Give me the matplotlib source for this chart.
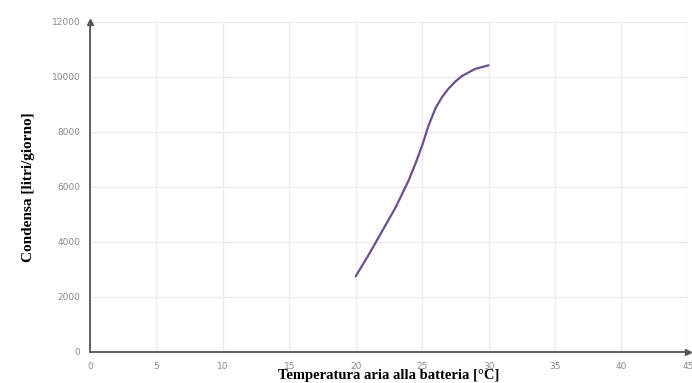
"""Condensa vs temperatura aria alla batteria."""

import matplotlib

matplotlib.use("Agg")
import matplotlib.pyplot as plt

# data
temp_c = [20, 21, 22, 23, 24, 24.5, 25, 25.5, 26, 26.5, 27, 27.5, 28, 29, 30]
condensa = [2750, 3550, 4400, 5250, 6250, 6850, 7500, 8250, 8850, 9270, 9580,
            9830, 10030, 10290, 10420]

x_ticks = list(range(0, 50, 5))
y_ticks = list(range(0, 14000, 2000))

LINE_COLOR = "#6c4f8e"
GRID_COLOR = "#ebebeb"
TICK_COLOR = "#8a8a8a"

fig = plt.figure(figsize=(6.92, 3.83), dpi=100)
ax = fig.add_axes((0.130, 0.081, 0.864, 0.862))

ax.plot(temp_c, condensa, color=LINE_COLOR, lw=1.6,
        solid_capstyle="round", solid_joinstyle="round")

ax.set_xlim(0, 45)
ax.set_ylim(0, 12000)
ax.set_xticks(x_ticks)
ax.set_yticks(y_ticks)
ax.tick_params(length=0, labelsize=6.5, colors=TICK_COLOR, pad=7)
ax.grid(True, color=GRID_COLOR, lw=1.0)
ax.set_axisbelow(True)

for side in ("top", "right"):
    ax.spines[side].set_visible(False)
for side in ("left", "bottom"):
    ax.spines[side].set_color("#555555")
    ax.spines[side].set_linewidth(1.3)

# arrow heads at the ends of the axes
ax.plot(1, 0, ">", color="#555555", ms=4, transform=ax.transAxes, clip_on=False)
ax.plot(0, 1, "^", color="#555555", ms=4, transform=ax.transAxes, clip_on=False)

ax.set_xlabel(
    "Temperatura aria alla batteria [°C]",
    family="Liberation Serif",
    fontsize=10.5,
    fontweight="bold",
    labelpad=-1,
)
ax.set_ylabel(
    "Condensa [litri/giorno]",
    family="Liberation Serif",
    fontsize=11,
    fontweight="bold",
    labelpad=12,
)

fig.savefig("out.png", dpi=100)
